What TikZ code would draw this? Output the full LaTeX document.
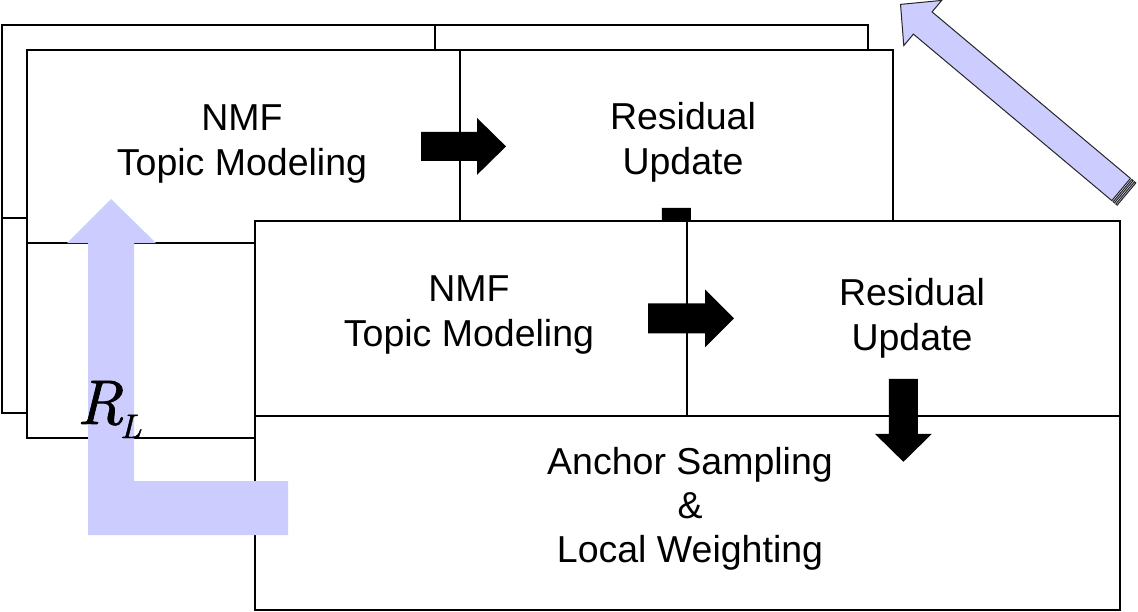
\documentclass[tikz,border=0pt]{standalone}
\usepackage{fontspec}
\newfontfamily\arialfont{Liberation Sans}
\newfontfamily\rlfont[FakeBold=1.2]{lmroman10-italic.otf}
\usetikzlibrary{calc}
\definecolor{lav}{HTML}{CCCCFF}
\tikzset{
  cell/.style={draw=black, fill=white, line width=1.8pt, inner sep=0pt, anchor=north west},
  txt/.style={align=center, inner sep=0pt, font=\arialfont\fontsize{37.5}{45}\selectfont},
  blk/.style={fill=black},
  lavarrow/.style={fill=lav, draw=black!85, line width=1pt, line join=miter},
}
\begin{document}
\begin{tikzpicture}[x=1pt,y=-1pt]
\useasboundingbox (0,0) rectangle (1138,611);
% ---- layer 1 (back) ----
\node[cell, minimum width=433pt, minimum height=193pt] (nmfA) at (1,24) {};
\node[cell, minimum width=433pt, minimum height=193pt] (resA) at (434,24) {};
\node[cell, minimum width=866pt, minimum height=195pt] (ancA) at (1,217) {};
% ---- layer 2 (middle) ----
\node[cell, minimum width=433pt, minimum height=193pt] (nmfB) at (26,49) {};
\node[cell, minimum width=433pt, minimum height=193pt] (resB) at (459,49) {};
\node[cell, minimum width=866pt, minimum height=195pt] (ancB) at (26,242) {};
\node[txt] (tNmfB) at (242,144) {NMF\\Topic Modeling};
\node[txt] (tResB) at (683,142) {Residual\\Update};
\begin{scope}[shift={(resB.west)}]
  \fill[blk] (-38,-14.5) -- (18,-14.5) -- (18,-28.5) -- (47,0) -- (18,28.5) -- (18,14.5) -- (-38,14.5) -- cycle;
\end{scope}
\begin{scope}[shift={(resB.south)}]
  \fill[blk] (-14.5,-36) -- (14.5,-36) -- (14.5,17) -- (28.5,17) -- (0,45) -- (-28.5,17) -- (-14.5,17) -- cycle;
\end{scope}
% ---- layer 3 (front) ----
\node[cell, minimum width=432pt, minimum height=195pt] (nmfC) at (254,220) {};
\node[cell, minimum width=433pt, minimum height=195pt] (resC) at (686,220) {};
\node[cell, minimum width=865pt, minimum height=194pt] (ancC) at (254,415) {};
\node[txt] (tNmfC) at (469,315) {NMF\\Topic Modeling};
\node[txt] (tResC) at (912,318) {Residual\\Update};
\node[txt, font=\arialfont\fontsize{37.5}{44}\selectfont] (tAncC) at (690,509) {Anchor Sampling\\\&\\Local Weighting};
\begin{scope}[shift={(resC.west)}]
  \fill[blk] (-38,-15) -- (19,-15) -- (19,-29) -- (48,0) -- (19,29) -- (19,15) -- (-38,15) -- cycle;
\end{scope}
\begin{scope}[shift={(resC.south)}]
  \fill[blk] (-14.5,-38) -- (14.5,-38) -- (14.5,17) -- (28.5,17) -- (0,45) -- (-28.5,17) -- (-14.5,17) -- cycle;
\end{scope}
% ---- lavender L-shaped feedback arrow ----
\fill[lav] (111,199) -- (156,243) -- (134,243) -- (134,481) -- (288,481) -- (288,535) -- (88,535) -- (88,243) -- (67,243) -- cycle;
\node[anchor=base west, inner sep=0pt, font=\rlfont] (rl) at (77,424) {\fontsize{63}{63}\selectfont R\kern-3pt\raisebox{-14pt}{\fontsize{34}{34}\selectfont L}};
% ---- diagonal lavender arrow ----
\begin{scope}[shift={(1126.5,194)}, rotate=140]
  \coordinate (tailD) at (0,0);
  \coordinate (tipD) at (295,0);
  \filldraw[lavarrow] (7,-14.5) -- (266,-14.5) -- (266,-29.5) -- (tipD) -- (266,29.5) -- (266,14.5) -- (7,14.5) -- cycle;
  \filldraw[lavarrow] (3.5,-14.5) rectangle (5.3,14.5);
  \filldraw[lavarrow] (tailD) ++(0,-14.5) rectangle (1.8,14.5);
\end{scope}
\end{tikzpicture}
\end{document}
